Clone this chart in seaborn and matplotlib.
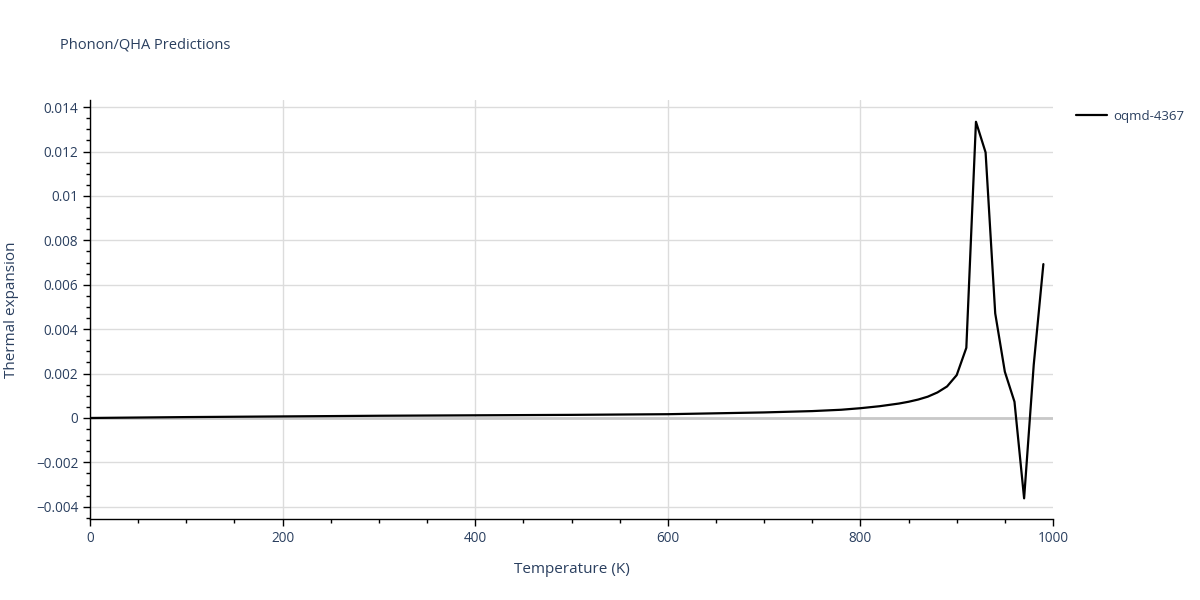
import numpy as np
import pandas as pd
import matplotlib
matplotlib.use("Agg")
import matplotlib.pyplot as plt
from matplotlib.ticker import MultipleLocator, FuncFormatter
import seaborn as sns

# values
temperature = [0, 100, 200, 300, 400, 500, 600, 700, 750, 780, 800, 820, 840,
               850, 860, 870, 880, 890, 900, 910, 920, 930, 940, 950, 960,
               970, 980, 990]
thermal_expansion = [0.0, 0.00004, 0.00007, 0.0001, 0.00012, 0.00014, 0.00017,
                     0.00025, 0.00031, 0.00037, 0.00044, 0.00053, 0.00065,
                     0.00073, 0.00083, 0.00096, 0.00115, 0.00142, 0.00193,
                     0.00316, 0.01334, 0.01196, 0.00471, 0.00208, 0.00073,
                     -0.00362, 0.0024, 0.00693]
series_name = "oqmd-4367"

df = pd.DataFrame({"Temperature": temperature,
                   "Thermal expansion": thermal_expansion,
                   "material": series_name})

sns.set_style("whitegrid")
plt.rcParams["font.family"] = ["Open Sans", "DejaVu Sans"]
text_color = "#2a3f5f"

fig = plt.figure(figsize=(12, 6), dpi=100)
ax = fig.add_axes([0.075, 0.135, 0.8025, 0.6983])

sns.lineplot(data=df, x="Temperature", y="Thermal expansion", hue="material",
             palette=["black"], linewidth=1.6, ax=ax)

ax.set_xlim(0, 1000)
ax.set_ylim(-0.00455, 0.01432)

ax.xaxis.set_major_locator(MultipleLocator(200))
ax.xaxis.set_minor_locator(MultipleLocator(50))
ax.yaxis.set_major_locator(MultipleLocator(0.002))
ax.yaxis.set_minor_locator(MultipleLocator(0.0005))

def fmt(v, pos):
    if abs(v) < 1e-12:
        return "0"
    s = ("%.3f" % v).rstrip("0").rstrip(".")
    return s.replace("-", "\u2212")

ax.yaxis.set_major_formatter(FuncFormatter(fmt))

ax.grid(True, which="major", color="#dcdcdc", linewidth=1)
ax.grid(False, which="minor")
ax.axhline(0, color="#c8c8c8", linewidth=2, zorder=1)
ax.patch.set_edgecolor("none")

for side in ["top", "right"]:
    ax.spines[side].set_visible(False)
for side in ["left", "bottom"]:
    ax.spines[side].set_visible(True)
    ax.spines[side].set_color("black")
    ax.spines[side].set_linewidth(1)

ax.tick_params(axis="both", which="major", direction="out", length=5,
               width=1, color="black", labelsize=9.8, labelcolor=text_color,
               left=True, bottom=True)
ax.tick_params(axis="both", which="minor", direction="out", length=3,
               width=1, color="black", left=True, bottom=True)

ax.set_xlabel("Temperature (K)", fontsize=11, color=text_color, labelpad=12)
ax.set_ylabel("Thermal expansion", fontsize=11, color=text_color)
ax.yaxis.set_label_coords(-0.074, 0.5)

fig.text(0.05, 0.925, "Phonon/QHA Predictions", fontsize=10.5,
         color=text_color, va="center")

leg = ax.legend(loc="upper left", bbox_to_anchor=(1.012, 1.005), frameon=False,
                fontsize=9.5, handlelength=2.3, handletextpad=0.5, title=None)
for t in leg.get_texts():
    t.set_color(text_color)

# no vertical gridline at the right edge in the reference
fig.canvas.draw()
for tick in ax.xaxis.get_major_ticks():
    if tick.get_loc() >= 1000:
        tick.gridline.set_visible(False)

fig.savefig("out.png", dpi=100)
